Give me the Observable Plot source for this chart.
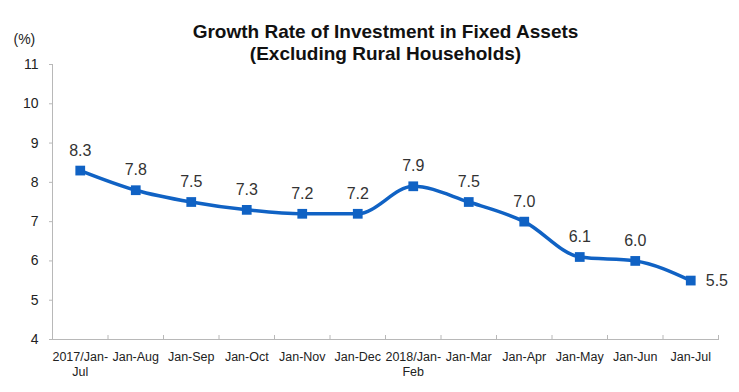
<!DOCTYPE html>
<html>
<head>
<meta charset="utf-8">
<script src="https://cdn.jsdelivr.net/npm/d3@7"></script>
<script src="https://cdn.jsdelivr.net/npm/@observablehq/plot@0.6"></script>
<style>
  html, body { margin: 0; padding: 0; background: #fff; }
  #chart svg { display: block; font-family: "Liberation Sans", Arial, sans-serif; }
</style>
</head>
<body>
<div id="chart"></div>
<script>
const categories = ["2017/Jan-\nJul", "Jan-Aug", "Jan-Sep", "Jan-Oct", "Jan-Nov", "Jan-Dec",
  "2018/Jan-\nFeb", "Jan-Mar", "Jan-Apr", "Jan-May", "Jan-Jun", "Jan-Jul"];
const growth = [8.3, 7.8, 7.5, 7.3, 7.2, 7.2, 7.9, 7.5, 7.0, 6.1, 6.0, 5.5];
const yTicks = [4, 5, 6, 7, 8, 9, 10, 11];
const titleLines = ["Growth Rate of Investment in Fixed Assets", "(Excluding Rural Households)"];
const unitLabel = "(%)";

const data = categories.map((c, i) => ({i, cat: c, value: growth[i]}));
const idx = d3.range(categories.length);
const bounds = d3.range(categories.length + 1).map(i => i - 0.5);
const blue = "#1062c4";
const axisGray = "#b8b8b8";

const chart = Plot.plot({
  width: 739,
  height: 392,
  marginLeft: 52,
  marginRight: 21,
  marginTop: 64,
  marginBottom: 53,
  style: {fontFamily: "Liberation Sans, Arial, sans-serif", color: "#222"},
  x: {type: "linear", domain: [-0.5, categories.length - 0.5]},
  y: {domain: [4, 11]},
  marks: [
    Plot.frame({anchor: "left", stroke: axisGray}),
    Plot.frame({anchor: "bottom", stroke: axisGray}),
    Plot.axisY({ticks: yTicks, tickSize: 3, tickPadding: 11, tickFormat: d => String(d), fontSize: 14, stroke: axisGray, color: "#222", label: null}),
    Plot.axisX({ticks: bounds, tickSize: -4, tickFormat: () => "", stroke: axisGray, label: null}),
    Plot.axisX({ticks: idx, tickSize: 0, tickPadding: 11, tickFormat: i => categories[i], fontSize: 12.5, fontWeight: "normal", label: null, lineHeight: 1.2}),
    Plot.line(data, {x: "i", y: "value", stroke: blue, strokeWidth: 3.5, curve: "monotone-x"}),
    Plot.dot(data, {x: "i", y: "value", symbol: "square", r: 5.5, fill: blue, stroke: "none"}),
    Plot.text(data.slice(0, -1), {x: "i", y: "value", text: d => d.value.toFixed(1), dy: -15, lineAnchor: "bottom", fontSize: 16, fill: "#333"}),
    Plot.text(data.slice(-1), {x: "i", y: "value", text: d => d.value.toFixed(1), dx: 15, textAnchor: "start", fontSize: 16, fill: "#333"}),
    Plot.text([titleLines.join("\n")], {frameAnchor: "top", dy: -42, lineAnchor: "top", fontSize: 19, fontWeight: "bold", fill: "#111", lineHeight: 1.15}),
    Plot.text([unitLabel], {frameAnchor: "top-left", dx: -39, dy: -30, textAnchor: "start", fontSize: 14, fill: "#222"})
  ]
});
document.getElementById("chart").appendChild(chart);
</script>
</body>
</html>
